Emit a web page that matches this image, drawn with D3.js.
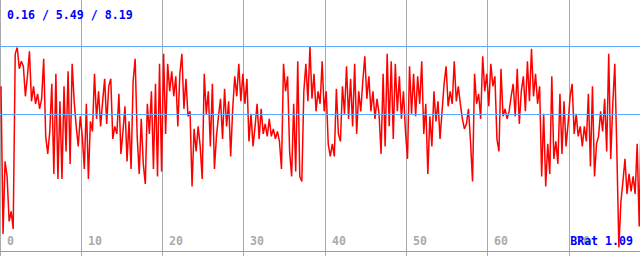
<!DOCTYPE html>
<html>
<head>
<meta charset="utf-8">
<script src="https://cdn.jsdelivr.net/npm/d3@7"></script>
<style>
  html, body { margin: 0; padding: 0; background: #fff; }
  svg { display: block; }
  text { font-family: "DejaVu Sans Mono", monospace; font-weight: bold; font-size: 11.6px; }
</style>
</head>
<body>
<script>
'use strict'

// samples, one every 0.25 units
const step = 0.25
const values = [
  6.6, 0.7, 3.6, 3.0, 1.2, 1.6, 0.9, 7.9, 8.15, 7.3,
  7.6, 7.4, 6.2, 7.0, 8.0, 6.0, 6.6, 5.9, 6.3, 5.7,
  6.1, 7.7, 4.6, 3.9, 4.8, 6.7, 3.1, 7.1, 2.9, 6.0,
  2.9, 6.6, 4.0, 7.2, 3.5, 7.5, 6.0, 5.0, 4.2, 5.4,
  4.6, 3.3, 5.9, 2.9, 5.2, 4.8, 7.1, 5.3, 6.4, 5.0,
  6.0, 6.9, 5.1, 6.6, 6.9, 4.5, 5.0, 4.7, 6.3, 3.9,
  4.8, 5.8, 3.6, 5.2, 3.3, 6.8, 7.7, 4.6, 3.1, 5.3,
  3.5, 2.7, 5.9, 4.7, 6.4, 3.3, 6.7, 3.0, 7.5, 3.2,
  7.9, 4.7, 7.5, 6.4, 7.2, 6.2, 7.0, 5.0, 7.1, 7.9,
  5.7, 6.9, 5.4, 5.6, 2.6, 4.9, 4.0, 5.0, 4.2, 2.9,
  7.1, 5.5, 6.4, 4.2, 6.7, 3.3, 4.6, 5.4, 6.1, 4.5,
  6.5, 5.0, 6.0, 3.8, 5.7, 7.0, 6.2, 7.5, 6.0, 7.1,
  5.9, 6.9, 4.4, 5.5, 4.2, 5.0, 5.9, 4.5, 5.7, 4.7,
  5.1, 4.6, 5.3, 4.6, 4.9, 4.5, 4.8, 4.4, 3.3, 7.5,
  6.4, 7.0, 4.0, 3.0, 5.9, 3.2, 7.6, 3.0, 2.8, 6.4,
  7.5, 6.0, 8.19, 6.1, 7.1, 5.6, 6.4, 5.9, 7.6, 5.6,
  6.4, 4.3, 3.8, 4.3, 3.8, 6.5, 4.7, 4.4, 6.6, 5.5,
  7.4, 5.3, 6.9, 5.0, 7.5, 4.7, 6.4, 5.6, 6.8, 7.8,
  6.1, 7.0, 5.6, 6.4, 5.3, 6.1, 5.5, 3.9, 7.1, 4.2,
  7.9, 5.0, 7.6, 4.5, 7.5, 5.6, 7.0, 5.3, 6.4, 4.8,
  3.7, 7.4, 5.5, 7.1, 5.4, 7.0, 5.9, 7.6, 4.7, 5.9,
  3.1, 5.4, 4.2, 6.4, 5.2, 6.0, 4.5, 5.6, 6.7, 7.4,
  5.8, 6.4, 5.9, 7.6, 6.0, 6.6, 5.9, 5.3, 4.9, 5.1,
  5.7, 4.4, 2.8, 7.1, 5.9, 6.3, 5.3, 7.8, 6.4, 7.1,
  5.8, 7.5, 6.6, 7.0, 4.5, 4.0, 7.3, 5.4, 5.7, 5.3,
  5.6, 6.2, 6.7, 5.4, 7.3, 5.1, 6.4, 7.0, 5.6, 7.6,
  6.0, 8.1, 6.2, 7.1, 5.9, 6.6, 3.0, 5.5, 2.6, 4.3,
  3.1, 7.0, 3.7, 4.4, 3.5, 6.3, 3.9, 6.0, 4.2, 5.1,
  6.2, 6.7, 4.7, 5.5, 4.6, 5.0, 4.2, 5.0, 4.4, 6.3,
  3.4, 6.6, 3.0, 4.3, 4.6, 5.6, 4.8, 6.1, 4.0, 7.9,
  3.7, 5.9, 7.5, 4.0, 0.16, 2.0, 2.8, 3.7, 2.3, 3.1,
  2.4, 3.0, 2.3, 4.3, 1.0, 5.7
]

const xTicks = [0, 10, 20, 30, 40, 50, 60, 70]
const stats = [0.16, 5.49, 8.19]   // min / avg / max
const ratioLabel = 'BRat 1.09'

const width = 640
const height = 256

const x = d3.scaleLinear()
  .domain([0, 10])
  .range([0, 81.3])

const y = d3.scaleLinear()
  .domain([0, stats[2]])
  .range([251.5, 46.5])

const crisp = v => Math.floor(v) + 0.5

const svg = d3.select('body').append('svg')
    .attr('width', width)
    .attr('height', height)

svg.append('rect')
    .attr('width', width)
    .attr('height', height)
    .attr('fill', '#fff')

// vertical grid
svg.selectAll('.grid')
    .data(xTicks)
  .enter().append('line')
    .attr('class', 'grid')
    .attr('x1', d => crisp(x(d)))
    .attr('x2', d => crisp(x(d)))
    .attr('y1', 0)
    .attr('y2', height)
    .attr('stroke', '#aaaaaa')
    .attr('stroke-width', 1)

svg.selectAll('.tick-label')
    .data(xTicks)
  .enter().append('text')
    .attr('class', 'tick-label')
    .attr('x', d => Math.floor(x(d)) + 7)
    .attr('y', 245)
    .attr('fill', '#aaaaaa')
    .text(d => d)

const line = d3.line()
  .x((d, i) => x(i * step) + 1)
  .y(d => y(d))

svg.append('path')
    .datum(values)
    .attr('d', line)
    .attr('fill', 'none')
    .attr('stroke', '#ff0000')
    .attr('stroke-width', 1.5)
    .attr('stroke-linejoin', 'miter')
    .attr('stroke-miterlimit', 2)

// max, avg and zero levels
svg.selectAll('.level')
    .data([stats[2], stats[1], 0])
  .enter().append('line')
    .attr('class', 'level')
    .attr('x1', 0)
    .attr('x2', width)
    .attr('y1', d => crisp(y(d)))
    .attr('y2', d => crisp(y(d)))
    .attr('stroke', '#5aaaff')
    .attr('stroke-width', 1)

svg.append('text')
    .attr('x', 7)
    .attr('y', 19)
    .attr('fill', '#0000ff')
    .text(stats.map(d => d.toFixed(2)).join(' / '))

svg.append('text')
    .attr('x', 633)
    .attr('y', 245)
    .attr('fill', '#0000ff')
    .style('text-anchor', 'end')
    .text(ratioLabel)
</script>
</body>
</html>
